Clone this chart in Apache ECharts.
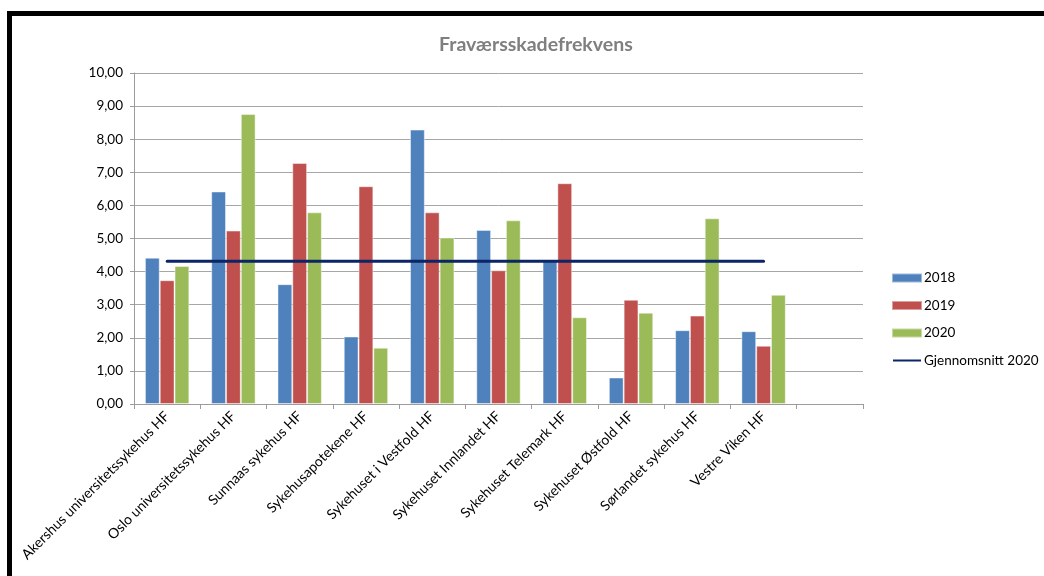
<!DOCTYPE html>
<html>
<head>
<meta charset="utf-8">
<script src="https://cdn.jsdelivr.net/npm/echarts@6/dist/echarts.min.js"></script>
<style>
  html, body { margin: 0; padding: 0; background: #fff; }
  #chart { width: 1044px; height: 576px; }
</style>
</head>
<body>
<div id="chart"></div>
<script>
// Hospital trusts; the last slot is intentionally left empty
const categories = [
  'Akershus universitetssykehus HF',
  'Oslo universitetssykehus HF',
  'Sunnaas sykehus HF',
  'Sykehusapotekene HF',
  'Sykehuset i Vestfold HF',
  'Sykehuset Innlandet HF',
  'Sykehuset Telemark HF',
  'Sykehuset Østfold HF',
  'Sørlandet sykehus HF',
  'Vestre Viken HF',
  ''
];

const values2018 = [4.42, 6.42, 3.62, 2.04, 8.29, 5.26, 4.33, 0.80, 2.23, 2.20];
const values2019 = [3.74, 5.24, 7.28, 6.58, 5.79, 4.04, 6.67, 3.15, 2.67, 1.76];
const values2020 = [4.17, 8.76, 5.79, 1.70, 5.03, 5.55, 2.62, 2.76, 5.61, 3.30];
const average2020 = [4.31, 4.31, 4.31, 4.31, 4.31, 4.31, 4.31, 4.31, 4.31, 4.31];

const seriesNames = ['2018', '2019', '2020', 'Gjennomsnitt 2020'];
const colors = ['#4F81BD', '#C0504D', '#9BBB59', '#0b2566'];

const font = 'Lato, "Open Sans", sans-serif';

// legend glyph for the average line: a thin bar centred in a 30x9 box
const lineIcon = 'path://M0,0 M30,9 M1,3.5 L29,3.5 L29,5.5 L1,5.5 Z';

const chart = echarts.init(document.getElementById('chart'), null, { renderer: 'canvas' });

function barSeries(name, data, color) {
  return {
    name: name,
    type: 'bar',
    data: data,
    barGap: '0%',
    barCategoryGap: '33%',
    itemStyle: { color: color, borderColor: 'rgba(255,255,255,0.45)', borderWidth: 1 }
  };
}

chart.setOption({
  animation: false,
  backgroundColor: '#ffffff',
  title: {
    text: 'Fraværsskadefrekvens',
    left: 434,
    top: 30,
    textStyle: { fontFamily: font, fontSize: 19.5, fontWeight: 'bold', color: '#7f7f7f' }
  },
  legend: {
    orient: 'vertical',
    left: 886,
    top: 266,
    itemWidth: 30,
    itemHeight: 9,
    itemGap: 13.5,
    data: [
      { name: seriesNames[0], icon: 'rect' },
      { name: seriesNames[1], icon: 'rect' },
      { name: seriesNames[2], icon: 'rect' },
      { name: seriesNames[3], icon: lineIcon, itemStyle: { color: colors[3] } }
    ],
    textStyle: { fontFamily: font, fontSize: 13.5, color: '#000', lineHeight: 14, padding: [0, 0, 0, -3] }
  },
  grid: { left: 134, right: 181, top: 73, bottom: 172, containLabel: false },
  xAxis: {
    type: 'category',
    data: categories,
    boundaryGap: true,
    axisLine: { lineStyle: { color: '#9c9c9c', width: 1 } },
    axisTick: { show: true, length: 5, lineStyle: { color: '#9c9c9c' } },
    axisLabel: {
      interval: 0,
      rotate: 45,
      margin: 10,
      fontFamily: font,
      fontSize: 14,
      color: '#000'
    },
    splitLine: { show: false }
  },
  yAxis: {
    type: 'value',
    min: 0,
    max: 10,
    interval: 1,
    axisLine: { show: true, lineStyle: { color: '#9c9c9c' } },
    axisTick: { show: true, length: 4, lineStyle: { color: '#9c9c9c' } },
    axisLabel: {
      margin: 11,
      fontFamily: font,
      fontSize: 13.5,
      color: '#000',
      formatter: v => v.toFixed(2).replace('.', ',')
    },
    splitLine: { lineStyle: { color: '#a6a6a6', width: 1 } }
  },
  series: [
    barSeries(seriesNames[0], values2018, colors[0]),
    barSeries(seriesNames[1], values2019, colors[1]),
    barSeries(seriesNames[2], values2020, colors[2]),
    {
      name: seriesNames[3],
      type: 'line',
      data: average2020,
      symbol: 'none',
      z: 5,
      lineStyle: { color: colors[3], width: 3, cap: 'round' },
      itemStyle: { color: colors[3] }
    }
  ],
  graphic: [
    // frame: heavy black rule along the top and left edges
    { type: 'rect', shape: { x: 7, y: 11, width: 1037, height: 5 }, style: { fill: '#000' }, silent: true },
    { type: 'rect', shape: { x: 7, y: 11, width: 5, height: 565 }, style: { fill: '#000' }, silent: true }
  ]
});
</script>
</body>
</html>
